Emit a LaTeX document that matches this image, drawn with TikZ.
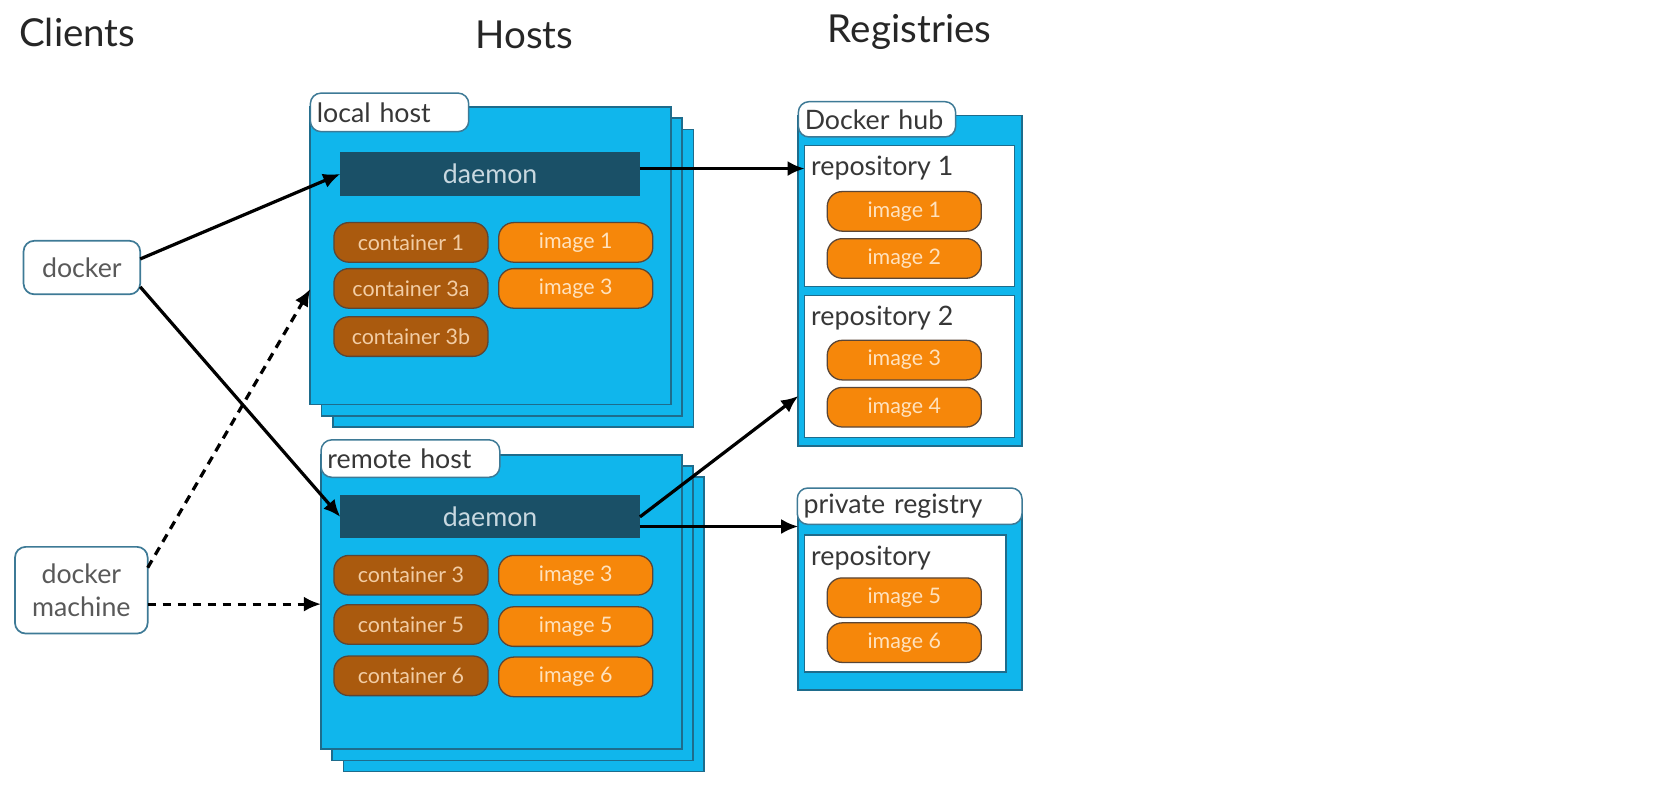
\documentclass[tikz,border=0pt]{standalone}
\usepackage{fontspec}
\setmainfont{Lato}
\usetikzlibrary{arrows.meta,shadows,positioning}
\definecolor{dockblue}{RGB}{16,182,236}
\definecolor{frameline}{RGB}{30,108,140}
\definecolor{tagline}{RGB}{62,122,150}
\definecolor{daemonfill}{RGB}{26,80,103}
\definecolor{daemontext}{RGB}{200,216,224}
\definecolor{contfill}{RGB}{170,90,14}
\definecolor{contline}{RGB}{90,70,55}
\definecolor{conttext}{RGB}{242,205,165}
\definecolor{imgfill}{RGB}{246,135,10}
\definecolor{imgtext}{RGB}{255,226,190}
\definecolor{labeltext}{RGB}{55,55,55}

\begin{document}
\begin{tikzpicture}[x=1pt,y=-1pt,% pixel-like coordinates, y going down
      every node/.style={inner sep=0pt,outer sep=0pt,font=\fontsize{25}{28}\selectfont,text=labeltext},
      heading/.style={font=\fontsize{36}{40}\selectfont,text=black!85},
      hostframe/.style={rectangle,draw=frameline,line width=1.6pt,fill=dockblue,anchor=north west,
        double copy shadow={shadow xshift=10.5pt,shadow yshift=-10.5pt}},
      regframe/.style={rectangle,draw=frameline,line width=1.6pt,fill=dockblue,anchor=north west},
      tagbox/.style={rectangle,rounded corners=10pt,draw=tagline,line width=1.4pt,fill=white,
        anchor=north west,align=left,inner xsep=6pt,text width=#1},
      repobox/.style={rectangle,draw=frameline,line width=1.2pt,fill=white,anchor=north west},
      clientbox/.style={rectangle,rounded corners=10pt,draw=tagline,line width=1.6pt,fill=white,
        align=center,text=black!65,anchor=north west},
      daemonbar/.style={rectangle,fill=daemonfill,text=daemontext,minimum width=280pt,minimum height=41pt,anchor=north west},
      pill/.style={rectangle,rounded corners=14pt,draw=contline,line width=1.2pt,
        minimum width=144pt,minimum height=37pt,anchor=north west,font=\fontsize{20}{24}\selectfont},
      container/.style={pill,fill=contfill,text=conttext},
      image/.style={pill,fill=imgfill,text=imgtext},
      link/.style={draw,line width=3pt,-{Latex[length=16pt,width=14pt]}},
      dashlink/.style={link,dash pattern=on 8pt off 6pt}
    ]
    \useasboundingbox (0,0) rectangle (1568,740);

    % headings
    \node[heading,anchor=west] (clients) at (18,30) {Clients};
    \node[heading] (hosts) at (490,33) {Hosts};
    \node[heading] (registries) at (850,30) {Registries};

    % clients
    \node[clientbox,minimum width=109pt,minimum height=50pt] (docker) at (22,225) {docker};
    \node[clientbox,minimum width=124pt,minimum height=81pt] (machine) at (14,511) {docker\\[2pt]machine};

    % local host
    \node[hostframe,minimum width=337pt,minimum height=278pt] (localhost) at (290,100) {};
    \node[tagbox=136pt,minimum height=36pt] (localtag) at (290,87) {local host};
    \node[daemonbar] (localdaemon) at (318,142) {daemon};
    \node[container] (lcont1) at (312,208) {container 1};
    \node[container] (lcont3a) at (312,251) {container 3a};
    \node[container] (lcont3b) at (312,296) {container 3b};
    \node[image] (limg1) at (466,208) {image 1};
    \node[image] (limg3) at (466,251) {image 3};

    % remote host
    \node[hostframe,minimum width=337pt,minimum height=275pt] (remotehost) at (300,425) {};
    \node[tagbox=155pt,minimum height=35pt] (remotetag) at (300,411) {remote host};
    \node[daemonbar,minimum height=40pt] (remotedaemon) at (318,463) {daemon};
    \node[container] (rcont3) at (312,519) {container 3};
    \node[container] (rcont5) at (312,565) {container 5};
    \node[container] (rcont6) at (312,613) {container 6};
    \node[image] (rimg3) at (466,519) {image 3};
    \node[image] (rimg5) at (466,567) {image 5};
    \node[image] (rimg6) at (466,614) {image 6};

    % Docker hub
    \node[regframe,minimum width=209pt,minimum height=309pt] (hub) at (746,108) {};
    \node[tagbox=135pt,minimum height=33pt] (hubtag) at (746,95) {Docker hub};
    \node[repobox,minimum width=196pt,minimum height=132pt] (repo1) at (752,136) {};
    \node[anchor=west] (repo1title) at ([shift={(6,21)}]repo1.north west) {repository 1};
    \node[image] (himg1) at (773,179) {image 1};
    \node[image] (himg2) at (773,223) {image 2};
    \node[repobox,minimum width=196pt,minimum height=133pt] (repo2) at (752,276) {};
    \node[anchor=west] (repo2title) at ([shift={(6,21)}]repo2.north west) {repository 2};
    \node[image] (himg3) at (773,318) {image 3};
    \node[image] (himg4) at (773,362) {image 4};

    % private registry
    \node[regframe,minimum width=209pt,minimum height=175pt] (privreg) at (746,470) {};
    \node[tagbox=198pt,minimum height=34pt] (privtag) at (745,456) {private registry};
    \node[repobox,minimum width=188pt,minimum height=128pt] (privrepo) at (752,500) {};
    \node[anchor=west] (privrepotitle) at ([shift={(6,21)}]privrepo.north west) {repository};
    \node[image] (pimg5) at (773,540) {image 5};
    \node[image] (pimg6) at (773,582) {image 6};

    % connectors
    \draw[link] ([yshift=8pt]docker.east) -- (localdaemon.west);
    \draw[link] ([yshift=-18pt]docker.east) -- (remotedaemon.west);
    \draw[dashlink] ([yshift=21pt]machine.east) -- ([yshift=-31pt]localhost.west);
    \draw[dashlink] ([yshift=-13pt]machine.east) coordinate (m2) -- (m2 -| remotehost.west);
    \draw[link] ([yshift=5pt]localdaemon.east) coordinate (d1) -- (d1 -| repo1.west);
    \draw[link] (remotedaemon.east) -- ([yshift=47pt]hub.south west);
    \draw[link] ([yshift=-9pt]remotedaemon.east) coordinate (d2) -- (d2 -| privreg.west);
  \end{tikzpicture}
\end{document}
